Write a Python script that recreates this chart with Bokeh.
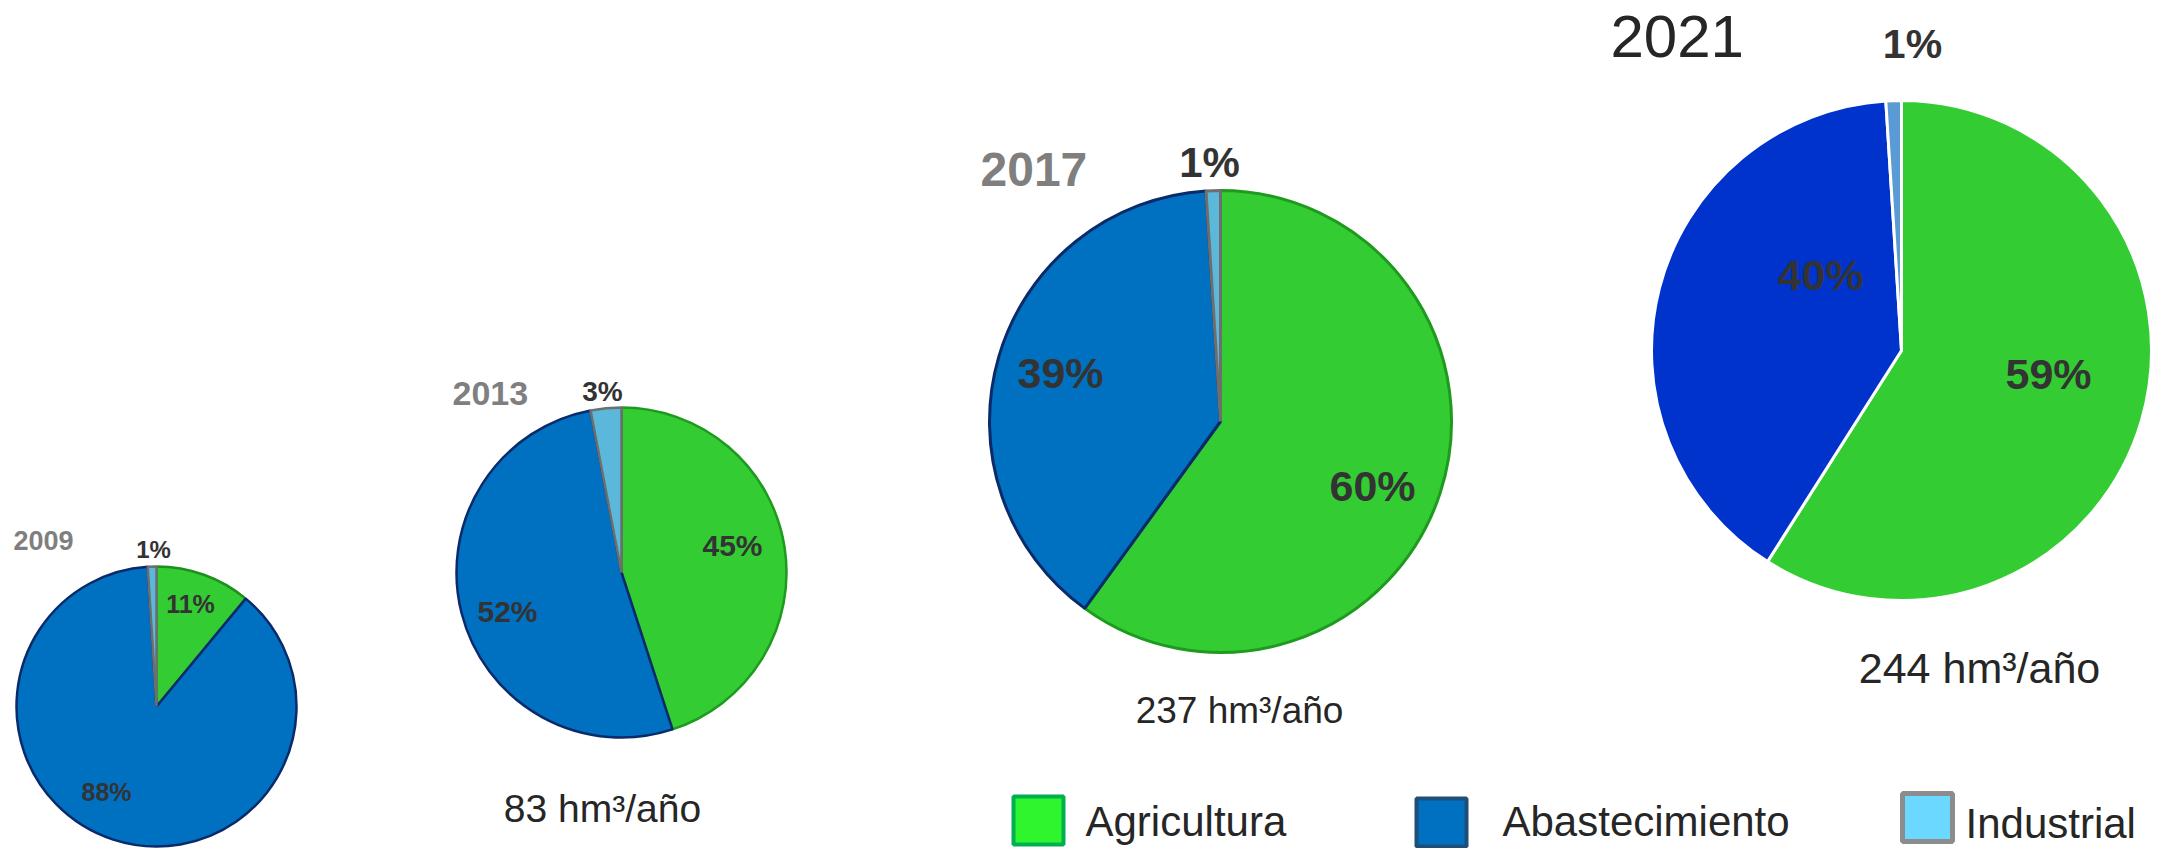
import math
from bokeh.plotting import figure
from bokeh.models import Range1d
from bokeh.embed import file_html
from bokeh.resources import INLINE
from bokeh.core.properties import value

# ---------------- data ----------------
years = ["2009", "2013", "2017", "2021"]
agricultura = [11, 45, 60, 59]
abastecimiento = [88, 52, 39, 40]
industrial = [1, 3, 1, 1]
volumen = [None, 83, 237, 244]
categorias = ["Agricultura", "Abastecimiento", "Industrial"]

# ---------------- layout (page pixel coords) ----------------
W, H = 2159, 848
centers = [(156, 706), (621, 572), (1220, 421), (1901, 350)]
radii = [140, 165, 231, 250]

fills = [
    ["#33CC33", "#0070C0", "#5BB8DB"],
    ["#33CC33", "#0070C0", "#5BB8DB"],
    ["#33CC33", "#0070C0", "#5BB8DB"],
    ["#33CC33", "#0033CC", "#5B9BD5"],
]
lines = [
    ["#1E8F1E", "#0A2A6A", "#6E6E6E"],
    ["#1E9A1E", "#0A2A6A", "#6E6E6E"],
    ["#1E9A1E", "#0A2A6A", "#6E6E6E"],
    ["#FFFFFF", "#FFFFFF", "#FFFFFF"],
]
line_widths = [2.5, 2.5, 3, 3]

# label positions: [agric, abast, indus] centres
label_pos = [
    [(190, 603), (106, 791), (153, 549)],
    [(732, 545), (507, 611), (602, 391)],
    [(1372, 485), (1060, 372), (1209, 162)],
    [(2048, 373), (1820, 274), (1912, 43)],
]
label_sizes = [[25, 25, 24], [30, 30, 28], [43, 43, 42], [43, 43, 41]]

year_pos = [(13, 540), (452, 393), (980, 169), (1610, 36)]
year_sizes = [27, 34, 48, 60]
year_styles = ["bold", "bold", "bold", "normal"]
year_colors = ["#7F7F7F", "#7F7F7F", "#7F7F7F", "#262626"]

vol_pos = [None, (602, 808), (1239, 710), (1979, 667)]
vol_sizes = [0, 39, 37, 43]

FONT = "Liberation Sans"


def Y(yp):
    return H - yp


p = figure(width=W, height=H, x_range=Range1d(0, W), y_range=Range1d(0, H),
           x_axis_type=None, y_axis_type=None, toolbar_location=None,
           output_backend="svg", min_border=0, outline_line_color=None,
           background_fill_color="white")
p.grid.visible = False

for i, yr in enumerate(years):
    cx, cy = centers[i]
    r = radii[i]
    vals = [agricultura[i], abastecimiento[i], industrial[i]]
    total = float(sum(vals))
    cum = 0.0
    for k, v in enumerate(vals):
        a0 = math.pi / 2 - 2 * math.pi * cum / total
        cum += v
        a1 = math.pi / 2 - 2 * math.pi * cum / total
        p.wedge(x=cx, y=Y(cy), radius=r, start_angle=a0, end_angle=a1,
                direction="clock", fill_color=fills[i][k],
                line_color=lines[i][k], line_width=line_widths[i])
    # percentage labels
    for k, v in enumerate(vals):
        lx, ly = label_pos[i][k]
        p.text(x=[lx], y=[Y(ly)], text=[f"{v}%"], text_align="center",
               text_baseline="middle", text_font=value(FONT),
               text_font_style="bold", text_color="#333333",
               text_font_size=f"{label_sizes[i][k]}px")
    # year label
    yx, yy = year_pos[i]
    p.text(x=[yx], y=[Y(yy)], text=[yr], text_align="left",
           text_baseline="middle", text_font=value(FONT),
           text_font_style=year_styles[i], text_color=year_colors[i],
           text_font_size=f"{year_sizes[i]}px")
    # volume label
    if volumen[i] is not None:
        vx, vy = vol_pos[i]
        p.text(x=[vx], y=[Y(vy)], text=[f"{volumen[i]} hm³/año"],
               text_align="center", text_baseline="middle",
               text_font=value(FONT), text_color="#262626",
               text_font_size=f"{vol_sizes[i]}px")

# ---------------- legend ----------------
sw_pos = [(1038, 820), (1441, 822), (1927, 817)]
sw_fill = ["#2EF52E", "#0070C0", "#6AD8FF"]
sw_line = ["#00B050", "#1F4E79", "#8C8C8C"]
sw_lw = [4, 4, 5]
txt_x = [1085, 1502, 1965]
txt_y = [821, 821, 823]
for k, cat in enumerate(categorias):
    sx, sy = sw_pos[k]
    p.rect(x=sx, y=Y(sy), width=50, height=48, fill_color=sw_fill[k],
           line_color=sw_line[k], line_width=sw_lw[k])
    p.text(x=[txt_x[k]], y=[Y(txt_y[k])], text=[cat], text_align="left",
           text_baseline="middle", text_font=value(FONT),
           text_color="#262626", text_font_size="42px")

open("out.html", "w").write(file_html(p, INLINE))
